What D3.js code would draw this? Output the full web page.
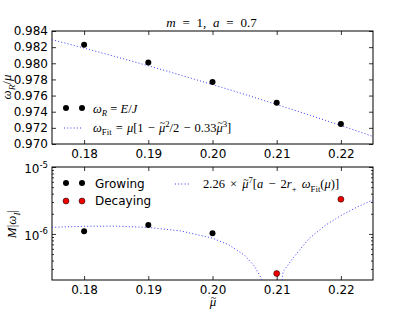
<!DOCTYPE html>
<html>
<head>
<meta charset="utf-8">
<script src="https://cdnjs.cloudflare.com/ajax/libs/d3/7.8.5/d3.min.js"></script>
<style>
body{margin:0;background:#fff;}
text{font-family:"DejaVu Sans",sans-serif;}
.math{font-family:"Liberation Serif",serif;}
</style>
</head>
<body>
<svg width="415" height="312"></svg>
<script>
// top panel: omega_R / mu
var muPts=[0.18,0.19,0.20,0.21,0.22];
var omegaR=[0.98231,0.98009,0.97769,0.97510,0.97247];
var fitMu=[0.175,0.18,0.185,0.19,0.195,0.20,0.205,0.21,0.215,0.22,0.225];
var fitR=[0.98292,0.98188,0.98080,0.97969,0.97854,0.97736,0.97615,0.97489,0.97361,0.97229,0.97093];
// bottom panel: M|omega_I|
var growMu=[0.18,0.19,0.20];
var growI=[1.10e-6,1.36e-6,1.02e-6];
var decayMu=[0.21,0.22];
var decayI=[2.56e-7,3.30e-6];
var fit2Mu=[0.175,0.18,0.185,0.19,0.195,0.20,0.2025,0.205,0.2065,0.2075,0.208,0.2095,0.211,0.2125,0.215,0.2175,0.22,0.2225,0.225];
var fit2I=[1.253e-6,1.302e-6,1.307e-6,1.250e-6,1.111e-6,8.64e-7,6.91e-7,4.80e-7,3.33e-7,2.27e-7,1.70e-7,1.1e-8,2.73e-7,4.31e-7,8.46e-7,1.33e-6,1.88e-6,2.51e-6,3.23e-6];
var xTicks=[0.18,0.19,0.20,0.21,0.22];
var yTicksTop=[0.970,0.972,0.974,0.976,0.978,0.980,0.982,0.984];
var yTicksBot=[1e-6,1e-5];
var yMinorBot=[3e-7,4e-7,5e-7,6e-7,7e-7,8e-7,9e-7,2e-6,3e-6,4e-6,5e-6,6e-6,7e-6,8e-6,9e-6];

var svg=d3.select("svg");
var L=52,R=373;
var x=d3.scaleLinear().domain([0.175,0.225]).range([L,R]);
var yT=d3.scaleLinear().domain([0.970,0.984]).range([144,31]);
var yB=d3.scaleLog().domain([2.05e-7,1e-5]).range([280,167]);
var blue="#3a3aff";

var defs=svg.append("defs");
defs.append("clipPath").attr("id","cT").append("rect").attr("x",L).attr("y",31).attr("width",R-L).attr("height",113);
defs.append("clipPath").attr("id","cB").append("rect").attr("x",L).attr("y",167).attr("width",R-L).attr("height",113);

// math text: parts = [text, kind]; kind: i italic, r roman, sub, sup, t = mu with tilde
function mathText(g,px,py,size,parts,anchor){
  var t=g.append("text").attr("class","math").attr("x",px).attr("y",py)
    .attr("font-size",size).attr("text-anchor",anchor||"start");
  var shift=0,pend=null;
  parts.forEach(function(p){
    var k=p[1];
    var target=0;
    if(k.indexOf("sub")>=0) target=size*0.3;
    if(k.indexOf("sup")>=0) target=-size*0.4;
    var s=t.append("tspan").text(p[0]).attr("dy",target-shift);
    shift=target;
    if(pend){ s.attr("dx",pend()); pend=null; }
    if(k.indexOf("sub")>=0||k.indexOf("sup")>=0) s.attr("font-size",size*0.7);
    if(k==="i"||k==="t"||k.indexOf("-i")>0) s.attr("font-style","italic");
    if(k==="t"){
      var w=s.node().getComputedTextLength();
      var tl=t.append("tspan").text("~").attr("font-size",size*0.8)
        .attr("dy",-size*0.42).attr("dx",-w*0.85);
      var tw=tl.node().getComputedTextLength();
      shift=-size*0.42;
      pend=function(){ return w*0.85-tw; };
    }
  });
  return t;
}

function panel(y,yAxisFn){
  var g=svg.append("g");
  var ax=g.append("g").attr("transform","translate(0,"+y.range()[0]+")")
    .call(d3.axisBottom(x).tickValues(xTicks).tickSize(-4).tickSizeOuter(0).tickPadding(5.5)
      .tickFormat(d3.format(".2f")));
  ax.selectAll("text").attr("font-size",12).attr("font-family","DejaVu Sans").attr("fill","#000");
  g.append("g").attr("transform","translate(0,"+y.range()[1]+")")
    .call(d3.axisTop(x).tickValues(xTicks).tickSize(-4).tickSizeOuter(0).tickFormat(""));
  yAxisFn(g);
  g.selectAll(".domain").remove();
  g.selectAll(".tick line").attr("stroke","#000").attr("stroke-width",0.8);
  g.append("rect").attr("x",L).attr("y",y.range()[1]).attr("width",R-L)
    .attr("height",y.range()[0]-y.range()[1]).attr("fill","none").attr("stroke","#000").attr("stroke-width",1);
  return g;
}

// ---------- top panel ----------
panel(yT,function(g){
  var a=g.append("g").attr("transform","translate("+L+",0)")
    .call(d3.axisLeft(yT).tickValues(yTicksTop).tickSize(-4).tickSizeOuter(0).tickPadding(4).tickFormat(d3.format(".3f")));
  a.selectAll("text").attr("font-size",12).attr("font-family","DejaVu Sans").attr("fill","#000");
  g.append("g").attr("transform","translate("+R+",0)")
    .call(d3.axisRight(yT).tickValues(yTicksTop).tickSize(-4).tickSizeOuter(0).tickFormat(""));
});

var lineT=d3.line().x(function(d){return x(d[0]);}).y(function(d){return yT(d[1]);}).curve(d3.curveMonotoneX);
svg.append("path").attr("clip-path","url(#cT)")
  .attr("d",lineT(d3.zip(fitMu,fitR)))
  .attr("fill","none").attr("stroke",blue).attr("stroke-width",1).attr("stroke-dasharray","1,2.2");
svg.append("g").selectAll("circle").data(d3.zip(muPts,omegaR)).enter().append("circle")
  .attr("cx",function(d){return x(d[0]);}).attr("cy",function(d){return yT(d[1]);})
  .attr("r",3).attr("fill","#000");

// top legend
svg.append("circle").attr("cx",66).attr("cy",108).attr("r",3).attr("fill","#000");
svg.append("circle").attr("cx",82).attr("cy",108).attr("r",3).attr("fill","#000");
mathText(svg,93,112.5,12.5,[["ω","i"],["R","sub-i"],[" = ","r"],["E","i"],["/","r"],["J","i"]]);
svg.append("line").attr("x1",64).attr("x2",81).attr("y1",128).attr("y2",128)
  .attr("stroke",blue).attr("stroke-width",1).attr("stroke-dasharray","1,2.2");
mathText(svg,93,131.5,12.5,[["ω","i"],["Fit","sub"],[" = ","r"],["μ","i"],["[1 − ","r"],["μ","t"],["2","sup"],["/2 − 0.33","r"],["μ","t"],["3","sup"],["]","r"]])
  .attr("word-spacing",1);

// title
mathText(svg,211.5,26.7,13,[["m","i"],[" = 1,  ","r"],["a","i"],[" = 0.7","r"]],"middle")
  .attr("word-spacing",3.5);

// y label top
var yl=mathText(svg,0,0,13,[["ω","i"],["R","sub-i"],["/","r"],["μ","i"]],"middle");
yl.attr("transform","translate(11,87) rotate(-90)");

// ---------- bottom panel ----------
panel(yB,function(g){
  var a=g.append("g").attr("transform","translate("+L+",0)")
    .call(d3.axisLeft(yB).tickValues(yTicksBot).tickSize(-4).tickSizeOuter(0).tickPadding(4).tickFormat(""));
  a.selectAll(".tick").each(function(d){
    var t=d3.select(this).append("text").attr("x",-4).attr("y",5.5).attr("text-anchor","end")
      .attr("font-size",12).attr("fill","#000");
    t.append("tspan").text("10");
    t.append("tspan").attr("font-size",8.5).attr("dy",-5.5).text("-"+Math.round(-Math.log10(d)));
  });
  g.append("g").attr("transform","translate("+L+",0)")
    .call(d3.axisLeft(yB).tickValues(yMinorBot).tickSize(-2).tickSizeOuter(0).tickFormat(""));
  g.append("g").attr("transform","translate("+R+",0)")
    .call(d3.axisRight(yB).tickValues(yTicksBot).tickSize(-4).tickSizeOuter(0).tickFormat(""));
  g.append("g").attr("transform","translate("+R+",0)")
    .call(d3.axisRight(yB).tickValues(yMinorBot).tickSize(-2).tickSizeOuter(0).tickFormat(""));
});

var lineB=d3.line().x(function(d){return x(d[0]);}).y(function(d){return yB(d[1]);});
svg.append("path").attr("clip-path","url(#cB)")
  .attr("d",lineB(d3.zip(fit2Mu,fit2I)))
  .attr("fill","none").attr("stroke",blue).attr("stroke-width",1).attr("stroke-dasharray","1,2.2");
svg.append("g").selectAll("circle").data(d3.zip(growMu,growI)).enter().append("circle")
  .attr("cx",function(d){return x(d[0]);}).attr("cy",function(d){return yB(d[1]);})
  .attr("r",3).attr("fill","#000");
svg.append("g").selectAll("circle").data(d3.zip(decayMu,decayI)).enter().append("circle")
  .attr("cx",function(d){return x(d[0]);}).attr("cy",function(d){return yB(d[1]);})
  .attr("r",3).attr("fill","#ee0000").attr("stroke","#000").attr("stroke-width",0.5);

// bottom legend
[66,82].forEach(function(cx){
  svg.append("circle").attr("cx",cx).attr("cy",183).attr("r",3).attr("fill","#000");
  svg.append("circle").attr("cx",cx).attr("cy",201).attr("r",3).attr("fill","#ee0000").attr("stroke","#000").attr("stroke-width",0.5);
});
svg.append("text").attr("x",95).attr("y",187.5).attr("font-size",12).text("Growing");
svg.append("text").attr("x",95).attr("y",205).attr("font-size",12).text("Decaying");
svg.append("line").attr("x1",175).attr("x2",191).attr("y1",184).attr("y2",184)
  .attr("stroke",blue).attr("stroke-width",1).attr("stroke-dasharray","1,2.2");
mathText(svg,203,188,12.5,[["2.26 × ","r"],["μ","t"],["7","sup"],["[","r"],["a","i"],[" − 2","r"],["r","i"],["+","sub"],[" ω","i"],["Fit","sub"],["(","r"],["μ","i"],[")]","r"]])
  .attr("word-spacing",2);

// y label bottom
var yl2=mathText(svg,0,0,13,[["M","i"],["|","r"],["ω","i"],["I","sub-i"],["|","r"]],"middle");
yl2.attr("transform","translate(16,224) rotate(-90)");

// x label
mathText(svg,213,306,13,[["μ","t"]],"middle");
</script>
</body>
</html>
